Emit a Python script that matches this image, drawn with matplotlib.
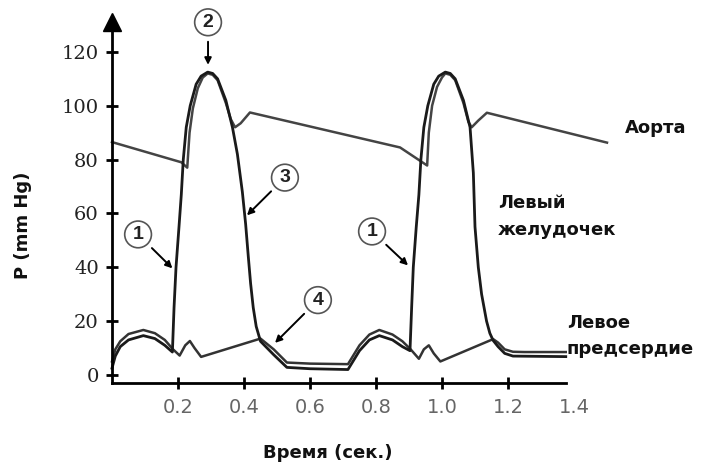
import matplotlib.pyplot as plt

# time (s) / pressure (mm Hg)
lv_t = [0.0, 0.01, 0.025, 0.05, 0.095, 0.13, 0.16, 0.183, 0.188, 0.194, 0.203,
        0.21, 0.216, 0.225, 0.237, 0.255, 0.27, 0.29, 0.305, 0.32, 0.345, 0.365,
        0.38, 0.395, 0.405, 0.413, 0.42, 0.428, 0.437, 0.45, 0.49, 0.53, 0.6,
        0.715, 0.735, 0.75, 0.78, 0.81, 0.85, 0.88, 0.903, 0.908, 0.913, 0.922,
        0.93, 0.936, 0.945, 0.957, 0.975, 0.99, 1.01, 1.025, 1.04, 1.065, 1.085,
        1.095, 1.1, 1.11, 1.12, 1.135, 1.145, 1.155, 1.17, 1.19, 1.215, 1.375]
lv_p = [2.5, 7, 10.5, 13, 14.6, 13.5, 11, 8.5, 25, 40, 55,
        67, 80, 92, 100, 108, 111, 112.5, 112, 110, 102, 92,
        82, 68, 56, 44, 34, 25, 18, 12.5, 7.5, 2.8, 2.3,
        2, 6, 9, 13, 14.6, 13, 10.5, 9, 25, 40, 55,
        67, 80, 92, 100, 108, 111, 112.5, 112, 110, 102, 92,
        75, 55, 40, 30, 20, 15.5, 12.8, 10.5, 8, 7, 6.8]

la_t = [0.0, 0.01, 0.025, 0.05, 0.095, 0.13, 0.16, 0.185, 0.205, 0.222, 0.236,
        0.25, 0.27, 0.45, 0.49, 0.53, 0.6, 0.715, 0.735, 0.75, 0.78, 0.81, 0.85,
        0.88, 0.905, 0.93, 0.945, 0.96, 0.975, 0.995, 1.155, 1.17, 1.19, 1.215,
        1.25, 1.375]
la_p = [5, 9.5, 12.5, 15.2, 16.7, 15.5, 13, 9.5, 7.2, 11, 12.6,
        10, 6.7, 13.5, 9.5, 4.6, 4.2, 4, 8, 11, 15, 16.7, 15,
        12.5, 9.5, 6, 9.5, 11, 8, 5, 13.3, 12, 9.5, 8.6,
        8.5, 8.5]

ao_t = [0.0, 0.21, 0.228, 0.235, 0.245, 0.26, 0.275, 0.29, 0.305, 0.32, 0.345,
        0.36, 0.373, 0.39, 0.418, 0.873, 0.933, 0.955, 0.96, 0.97, 0.985, 1.0,
        1.01, 1.025, 1.04, 1.065, 1.08, 1.09, 1.11, 1.136, 1.5]
ao_p = [86.5, 79, 77, 90, 99, 106.5, 110.5, 112, 111.5, 109.5, 101,
        95, 92, 93.5, 97.5, 84.5, 79.6, 77.8, 90, 100, 107, 110.5,
        112, 111.5, 109.5, 101, 94, 92, 94.5, 97.4, 86.3]

y_ticks = [0, 20, 40, 60, 80, 100, 120]
x_ticks = [0.2, 0.4, 0.6, 0.8, 1.0, 1.2, 1.4]

# circled markers: label, circle position, arrow tip
marks = [('1', (0.079, 52.2), (0.183, 39.6)),
         ('2', (0.291, 131.0), (0.291, 115.2)),
         ('3', (0.524, 73.3), (0.409, 59.3)),
         ('4', (0.624, 27.8), (0.494, 11.9)),
         ('1', (0.788, 53.3), (0.897, 40.7))]

fig = plt.figure(figsize=(7.05, 4.7), dpi=100)
ax = fig.add_axes([112 / 705, 87 / 470, 495 / 705, 360.7 / 470])

ax.plot(ao_t, ao_p, color='#444444', lw=1.8, clip_on=False)
ax.plot(la_t, la_p, color='#333333', lw=1.8, clip_on=False)
ax.plot(lv_t, lv_p, color='#1a1a1a', lw=2.0, clip_on=False)

ax.set_xlim(0, 1.5)
ax.set_ylim(-3, 131)
ax.spines['top'].set_visible(False)
ax.spines['right'].set_visible(False)
ax.spines['left'].set_linewidth(2)
ax.spines['bottom'].set_linewidth(2)
ax.spines['bottom'].set_bounds(0, 1.377)

ax.set_yticks(y_ticks)
ax.set_yticklabels([str(v) for v in y_ticks], family='DejaVu Serif',
                   fontsize=14, color='#222222')
ax.set_xticks(x_ticks)
ax.set_xticklabels(['%.1f' % v for v in x_ticks], family='DejaVu Sans',
                   fontsize=14, color='#666666')
ax.tick_params(axis='both', direction='inout', length=9, width=2, color='k')
ax.tick_params(axis='y', pad=5)
ax.tick_params(axis='x', pad=6)
ax.xaxis.get_major_ticks()[-1].tick1line.set_visible(False)

# arrow head on the y axis
ax.plot(0, 131, marker='^', ms=13, color='k', clip_on=False)

for lab, xy_c, xy_t in marks:
    ax.annotate('', xy=xy_t, xytext=xy_c,
                arrowprops=dict(arrowstyle='-|>', color='k', lw=1.4,
                                shrinkA=14, shrinkB=0, mutation_scale=10))
    ax.text(xy_c[0], xy_c[1], lab, ha='center', va='center', fontsize=14,
            family='Liberation Sans', fontweight='bold', color='#222222',
            bbox=dict(boxstyle='circle,pad=0.25', fc='white', ec='#555555', lw=1.2))

lbl = dict(family='DejaVu Sans', fontweight='bold', fontsize=13, color='#111111')
fig.text(625 / 705, 1 - 128 / 470, 'Аорта', va='center', **lbl)
fig.text(498 / 705, 1 - 203 / 470, 'Левый', va='center', **lbl)
fig.text(498 / 705, 1 - 230 / 470, 'желудочек', va='center', **lbl)
fig.text(567 / 705, 1 - 323 / 470, 'Левое', va='center', **lbl)
fig.text(567 / 705, 1 - 349 / 470, 'предсердие', va='center', **lbl)
fig.text(328 / 705, 1 - 453 / 470, 'Время (сек.)', ha='center', va='center', **lbl)
fig.text(23 / 705, 1 - 225 / 470, 'P (mm Hg)', ha='center', va='center',
         rotation=90, **lbl)

fig.savefig('out.png', dpi=100)
